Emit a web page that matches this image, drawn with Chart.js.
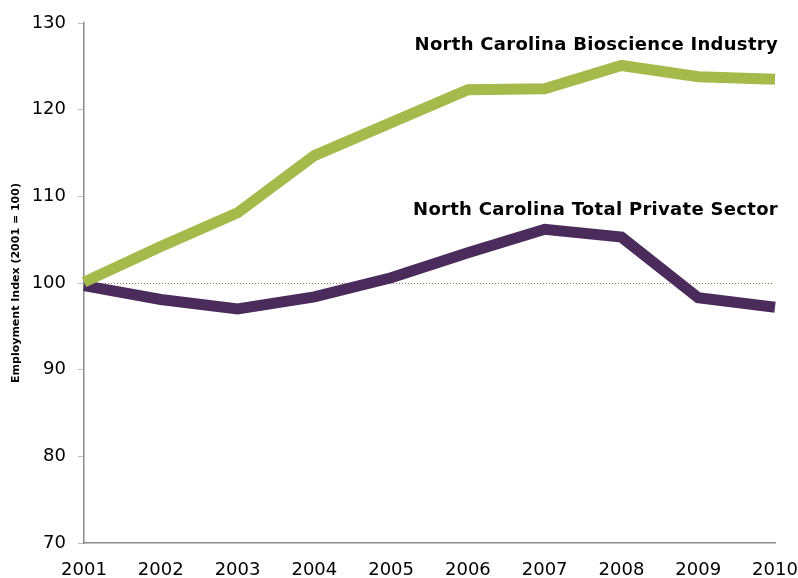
<!DOCTYPE html>
<html>
<head>
<meta charset="utf-8">
<script src="https://cdn.jsdelivr.net/npm/chart.js@4"></script>
<style>
  html, body { margin: 0; padding: 0; background: #fff; }
  #wrap { width: 798px; height: 578px; }
</style>
</head>
<body>
<div id="wrap"><canvas id="myChart" width="798" height="578"></canvas></div>
<script>
const years = ["2001", "2002", "2003", "2004", "2005", "2006", "2007", "2008", "2009", "2010"];
const bioscience = [100.1, 104.2, 108.1, 114.7, 118.5, 122.3, 122.4, 125.1, 123.8, 123.5];
const privateSector = [99.7, 98.1, 97.0, 98.4, 100.6, 103.5, 106.2, 105.3, 98.3, 97.2];
const yTicks = [70, 80, 90, 100, 110, 120, 130];
const baseValue = 100;
const seriesNames = ["North Carolina Bioscience Industry", "North Carolina Total Private Sector"];
const nameAnchor = [127.4, 108.4];

const fontFamily = "'DejaVu Sans', Verdana, sans-serif";

// dotted line at the base year level + the series names
const extras = {
  id: "extras",
  beforeDatasetsDraw(chart) {
    const ctx = chart.ctx;
    const area = chart.chartArea;
    const y = Math.round(chart.scales.y.getPixelForValue(baseValue)) + 0.5;
    ctx.save();
    ctx.strokeStyle = "#8c6f58";
    ctx.lineWidth = 1;
    ctx.setLineDash([1, 2]);
    ctx.beginPath();
    ctx.moveTo(area.left, y);
    ctx.lineTo(area.right - 2, y);
    ctx.stroke();
    ctx.restore();
  },
  afterDatasetsDraw(chart) {
    const ctx = chart.ctx;
    const area = chart.chartArea;
    ctx.save();
    ctx.fillStyle = "#000";
    ctx.font = "bold 18px " + fontFamily;
    ctx.letterSpacing = "0.3px";
    ctx.textAlign = "right";
    ctx.textBaseline = "middle";
    seriesNames.forEach((name, i) => {
      ctx.fillText(name, area.right + 3, chart.scales.y.getPixelForValue(nameAnchor[i]));
    });
    ctx.restore();
  }
};

new Chart(document.getElementById("myChart"), {
  type: "line",
  data: {
    labels: years,
    datasets: [
      {
        label: seriesNames[0],
        data: bioscience,
        borderColor: "#a4ba4a",
        borderWidth: 11,
        pointRadius: 0,
        tension: 0,
        borderJoinStyle: "miter",
        borderCapStyle: "butt"
      },
      {
        label: seriesNames[1],
        data: privateSector,
        borderColor: "#4a2b5b",
        borderWidth: 11,
        pointRadius: 0,
        tension: 0,
        borderJoinStyle: "miter",
        borderCapStyle: "butt"
      }
    ]
  },
  options: {
    responsive: false,
    animation: false,
    layout: { padding: { top: 23, right: 23, left: 0, bottom: 0 } },
    plugins: {
      legend: { display: false },
      tooltip: { enabled: false }
    },
    scales: {
      x: {
        offset: false,
        grid: { display: false, drawTicks: false },
        border: { color: "#8a8a8a", width: 1.5 },
        ticks: {
          color: "#000",
          font: { family: fontFamily, size: 18 },
          padding: 17,
          maxRotation: 0,
          autoSkip: false
        },
        afterFit(scale) {
          scale.height = 35;
          scale.paddingLeft = 0;
          scale.paddingRight = 0;
        }
      },
      y: {
        min: 70,
        max: 130,
        afterBuildTicks(scale) { scale.ticks = yTicks.map(v => ({ value: v })); },
        grid: { drawOnChartArea: false, drawTicks: true, tickLength: 6, color: "#bdbdbd" },
        border: { color: "#8a8a8a", width: 1.5 },
        ticks: {
          color: "#000",
          font: { family: fontFamily, size: 18 },
          padding: 12
        },
        title: {
          display: true,
          text: "Employment Index (2001 = 100)",
          color: "#000",
          font: { family: fontFamily, size: 11, weight: "bold" },
          padding: { top: 10, bottom: 0 }
        },
        afterFit(scale) {
          scale.width = 84;
          scale.paddingTop = 0;
          scale.paddingBottom = 0;
        }
      }
    }
  },
  plugins: [extras]
});
</script>
</body>
</html>
